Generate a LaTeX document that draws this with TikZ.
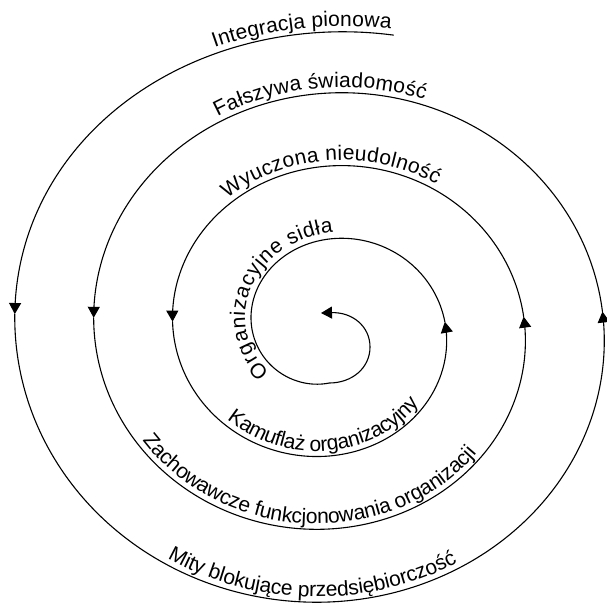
\documentclass[tikz,border=0pt]{standalone}
\usepackage{fontspec}
\setmainfont{Liberation Sans}
\usetikzlibrary{arrows.meta,decorations.text}
\newcommand\lblfont{\fontsize{21}{25}\selectfont}
\begin{document}
\begin{tikzpicture}[x=1pt,y=1pt,
  declare function={
    sa(\t)=353.75-0.219444*\t;
    sf(\t)=12*max(0,1-((\t-90)/90)*((\t-90)/90));
    sb(\t)=327.5-0.202778*\t-sf(\t);
    sx(\t)=329.25+sa(\t)*cos(\t);
    sy(\t)=273.75+sb(\t)*sin(\t);
  },
  spiral/.style={line width=1.1pt, line cap=round, -{Triangle[length=11pt,width=12pt]}},
]
\fill[white] (0,0) rectangle (607,603);
\useasboundingbox (0,0) rectangle (607,603);

% spiral, in segments so that each arrow head sits on the curve
\draw[spiral] plot[domain=79:177,   samples=60, smooth, variable=\u] ({sx(\u)},{sy(\u)});
\draw[spiral] plot[domain=177:364,  samples=90, smooth, variable=\u] ({sx(\u)},{sy(\u)});
\draw[spiral] plot[domain=364:537,  samples=90, smooth, variable=\u] ({sx(\u)},{sy(\u)});
\draw[spiral] plot[domain=537:724,  samples=90, smooth, variable=\u] ({sx(\u)},{sy(\u)});
\draw[spiral] plot[domain=724:897,  samples=90, smooth, variable=\u] ({sx(\u)},{sy(\u)});
\draw[spiral] plot[domain=897:1084, samples=90, smooth, variable=\u] ({sx(\u)},{sy(\u)});
\coordinate (inR) at (370,256);
\coordinate (inTip) at (321,290);
\draw[spiral] plot[domain=1084:1350,samples=120, smooth, variable=\u] ({sx(\u)},{sy(\u)})
  .. controls (352,220) and (370,235) .. (inR)
  .. controls (370,277) and (352,291) .. (inTip);

% labels along the spiral (top ones run clockwise, bottom ones counter-clockwise)
\path[decorate, decoration={text along path, raise=5.5pt, text={|\lblfont|Integracja pionowa}}]
  plot[domain=0:90, samples=91, variable=\u] ({sx(110-\u)},{sy(110-\u)});
\path[decorate, decoration={text along path, raise=5.5pt, text={|\lblfont|Fałszywa świadomość}}]
  plot[domain=0:150, samples=101, variable=\u] ({sx(476-\u)},{sy(476-\u)});
\path[decorate, decoration={text along path, raise=5.5pt, text={|\lblfont|Wyuczona nieudolność}}]
  plot[domain=0:160, samples=81, variable=\u] ({sx(846-\u)},{sy(846-\u)});
\path[decorate, decoration={text along path, raise=6pt, text={|\lblfont|Organizacyjne sidła}}]
  plot[domain=0:170, samples=86, variable=\u] ({sx(1297-\u)},{sy(1297-\u)});
\path[decorate, decoration={text along path, raise=5.5pt, text={|\lblfont|Kamuflaż organizacyjny}}]
  plot[domain=0:170, samples=86, variable=\u] ({sx(944+\u)},{sy(944+\u)});
\path[decorate, decoration={text along path, raise=5.5pt, text={|\lblfont|Zachowawcze funkcjonowania organizacji}}]
  plot[domain=0:170, samples=86, variable=\u] ({sx(573+\u)},{sy(573+\u)});
\path[decorate, decoration={text along path, raise=5.5pt, text={|\lblfont|Mity blokujące przedsiębiorczość}}]
  plot[domain=0:120, samples=121, variable=\u] ({sx(237+\u)},{sy(237+\u)});
\end{tikzpicture}
\end{document}
